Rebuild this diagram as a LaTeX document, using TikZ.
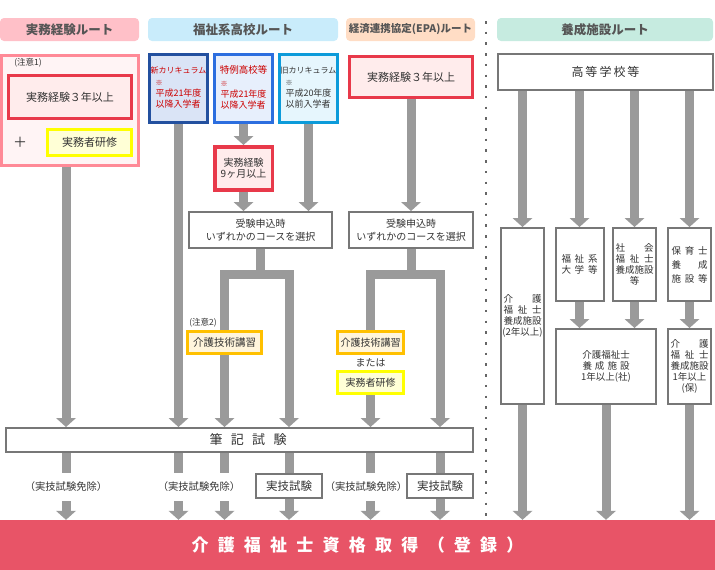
\documentclass[tikz,border=0pt]{standalone}
\usepackage{fontspec}
\setmainfont{Noto Sans CJK JP}
\usetikzlibrary{positioning, arrows.meta}

\definecolor{shaftgray}{HTML}{9A9A9A}
\definecolor{boxgray}{HTML}{777777}
\definecolor{txtdark}{HTML}{333333}
\definecolor{hdrtxt}{HTML}{555555}
\definecolor{hdrpink}{HTML}{FFC0C8}
\definecolor{hdrblue}{HTML}{C9ECFB}
\definecolor{hdrpeach}{HTML}{FFDDC5}
\definecolor{hdrmint}{HTML}{C6EBE0}
\definecolor{routepink}{HTML}{FF8A97}
\definecolor{routefill}{HTML}{FFF4F5}
\definecolor{redline}{HTML}{E8394A}
\definecolor{redfill}{HTML}{FFECEC}
\definecolor{ylwline}{HTML}{FFFF00}
\definecolor{ylwfill}{HTML}{FFFFD6}
\definecolor{orgline}{HTML}{FFC000}
\definecolor{orgfill}{HTML}{FFF5DC}
\definecolor{shinline}{HTML}{23509F}
\definecolor{shinfill}{HTML}{DAE4F6}
\definecolor{tokuline}{HTML}{2C6EDF}
\definecolor{tokufill}{HTML}{E7EFFC}
\definecolor{kyuline}{HTML}{0C9BDA}
\definecolor{kyufill}{HTML}{E6F6FD}
\definecolor{notered}{HTML}{CC0000}
\definecolor{goalred}{HTML}{E85467}
\definecolor{dotgray}{HTML}{666666}

\newcommand{\spreadto}[2]{\makebox[#1][s]{#2}}

\begin{document}
\begin{tikzpicture}[
    x=1pt, y=-1pt,
    hdr/.style={rounded corners=4pt, minimum height=23pt, inner sep=0pt, text=hdrtxt, font=\bfseries\fontsize{12.5}{13}\selectfont},
    box/.style={draw=boxgray, line width=2pt, fill=white, inner sep=0pt, align=center, text=txtdark, font=\fontsize{10}{12}\selectfont},
    redbox/.style={box, draw=redline, fill=redfill, line width=3.5pt},
    ylwbox/.style={box, draw=ylwline, fill=ylwfill, line width=3pt},
    orgbox/.style={box, draw=orgline, fill=orgfill, line width=3pt},
    curbox/.style={box, line width=3pt, minimum width=58pt, minimum height=68pt, font=\fontsize{9}{10.5}\selectfont},
    vbox/.style={box, font=\fontsize{9.5}{11}\selectfont},
    note/.style={inner sep=0pt, text=txtdark, font=\fontsize{8.5}{9}\selectfont},
    exempt/.style={inner sep=0pt, minimum height=28pt, text=txtdark, font=\fontsize{10.3}{11}\selectfont},
    shaft/.style={draw=shaftgray, line width=9pt, line join=miter},
    arrow/.style={shaft, -{Triangle[width=20pt, length=9pt, line width=0pt]}}
]
\useasboundingbox (0,0) rectangle (715,570);

% Route headers
\node[hdr, fill=hdrpink, minimum width=139pt] (hdrJitsumu) at (69.5,29.5) {実務経験ルート};
\node[hdr, fill=hdrblue, minimum width=190pt] (hdrKoukou) at (243,29.5) {福祉系高校ルート};
\node[hdr, fill=hdrpeach, minimum width=129pt, font=\bfseries\fontsize{10.5}{11}\selectfont] (hdrEpa) at (410.5,29.5) {経済連携協定(EPA)ルート};
\node[hdr, fill=hdrmint, minimum width=216pt] (hdrYousei) at (605,29.5) {養成施設ルート};

% Separator
\coordinate (sepTop) at (486,21);
\coordinate (sepBot) at (486,518);
\draw[dotgray, line width=2.5pt, dash pattern=on 2.5pt off 8.2pt] (sepTop) -- (sepBot);

% Jitsumu route
\node[box, draw=routepink, fill=routefill, line width=3pt, minimum width=137pt, minimum height=110pt] (jitsumu) at (70,110) {};
\node[note] (chui1) at (28,63) {(注意1)};
\node[redbox, minimum width=123pt, minimum height=43pt, font=\fontsize{11}{12}\selectfont] (keiken3) at (70,97) {実務経験３年以上};
\node[ylwbox, minimum width=84pt, minimum height=26pt, font=\fontsize{11}{12}\selectfont] (kenshu1) at (89.5,142.5) {実務者研修};
\node[inner sep=0pt, text=txtdark, font=\fontsize{14}{14}\selectfont] (plus) at (20,142) {＋};

% Koukou route
\node[curbox, draw=shinline, fill=shinfill, text=notered] (shin) at (178.5,88.5) {{\fontsize{8}{10}\selectfont 新カリキュラム}\\[3.5pt]\begin{tabular}{@{}l@{}}{\fontsize{7}{8}\selectfont ※}\\平成21年度\\以降入学者\end{tabular}};
\node[curbox, draw=tokuline, fill=tokufill, text=notered, right=4pt of shin] (tokurei) {{\fontsize{9.5}{10}\selectfont 特例高校等}\\[3.5pt]\begin{tabular}{@{}l@{}}{\fontsize{7}{8}\selectfont ※}\\平成21年度\\以降入学者\end{tabular}};
\node[curbox, draw=kyuline, fill=kyufill, right=4pt of tokurei] (kyu) {{\fontsize{8}{10}\selectfont 旧カリキュラム}\\[3.5pt]\begin{tabular}{@{}l@{}}{\fontsize{7}{8}\selectfont ※}\\平成20年度\\以前入学者\end{tabular}};
\node[redbox, minimum width=57.5pt, minimum height=43pt, font=\fontsize{10}{11}\selectfont, below=21pt of tokurei] (keiken9) {実務経験\\9ヶ月以上};
\node[box, minimum width=143pt, minimum height=36pt, font=\fontsize{10}{13}\selectfont] (sel1) at (260.5,230) {受験申込時\\いずれかのコースを選択};
\coordinate[below=25pt of sel1.south] (br1);
\node[note] (chui2) at (203,323) {(注意2)};
\node[orgbox, minimum width=74pt, minimum height=22pt, font=\fontsize{10.5}{11}\selectfont] (kaigo1) at (224.5,342.5) {介護技術講習};

% EPA route
\node[redbox, minimum width=123pt, minimum height=41pt, font=\fontsize{11}{12}\selectfont] (epa) at (411,77) {実務経験３年以上};
\node[box, minimum width=124pt, minimum height=36pt, font=\fontsize{10}{13}\selectfont] (sel2) at (411,230) {受験申込時\\いずれかのコースを選択};
\coordinate[below=25pt of sel2.south] (br2);
\node[orgbox, minimum width=66pt, minimum height=22pt, font=\fontsize{10}{11}\selectfont] (kaigo2) at (370.5,342.5) {介護技術講習};
\node[note, font=\fontsize{10}{11}\selectfont] (mataha) at (370.5,363) {または};
\node[ylwbox, minimum width=66pt, minimum height=22pt, font=\fontsize{10}{11}\selectfont] (kenshu2) at (370.5,382.5) {実務者研修};

% Yousei route
\node[box, minimum width=215pt, minimum height=36pt, font=\fontsize{12}{13}\selectfont] (koko) at (605.5,72) {\spreadto{68pt}{高 等 学 校 等}};
\node[vbox, minimum width=43pt, minimum height=176pt] (y2) at (522.5,316) {\spreadto{38pt}{介 護}\\\spreadto{38pt}{福 祉 士}\\養成施設\\(2年以上)};
\node[vbox, minimum width=48pt, minimum height=73pt] (fdai) at (579.5,264.5) {\spreadto{36pt}{福 祉 系}\\\spreadto{36pt}{大 学 等}};
\node[vbox, minimum width=43pt, minimum height=73pt] (shakai) at (634.5,264.5) {\spreadto{38pt}{社 会}\\\spreadto{38pt}{福 祉 士}\\養成施設\\等};
\node[vbox, minimum width=43pt, minimum height=73pt, font=\fontsize{9.5}{14}\selectfont] (hoiku) at (689.5,264.5) {\spreadto{36pt}{保 育 士}\\\spreadto{36pt}{養 成}\\\spreadto{36pt}{施 設 等}};
\node[vbox, minimum width=100pt, minimum height=75pt] (y1sha) at (606,366.5) {介護福祉士\\\spreadto{47pt}{養 成 施 設}\\1年以上(社)};
\node[vbox, minimum width=43pt, minimum height=75pt] (y1ho) at (689.5,366.5) {\spreadto{38pt}{介 護}\\\spreadto{38pt}{福 祉 士}\\養成施設\\1年以上\\(保)};

% Written exam and practical exam
\node[box, minimum width=467pt, minimum height=24pt, font=\fontsize{13}{14}\selectfont] (hikki) at (239.5,440) {\hspace*{17pt}\spreadto{77pt}{筆 記 試 験}};
\node[exempt] (men1) at (66,487) {（実技試験免除）};
\node[exempt] (men2) at (199,487) {（実技試験免除）};
\node[exempt] (men3) at (366,487) {（実技試験免除）};
\node[box, minimum width=66pt, minimum height=24pt, font=\fontsize{11.5}{12}\selectfont] (jitsugi1) at (289,486) {実技試験};
\node[box, minimum width=66pt, minimum height=24pt, font=\fontsize{11.5}{12}\selectfont] (jitsugi2) at (440,486) {実技試験};

% Goal
\node[fill=goalred, minimum width=715pt, minimum height=50pt, inner sep=0pt, text=white, font=\bfseries\fontsize{17}{17}\selectfont] (goal) at (357.5,545) {\spreadto{332pt}{介 護 福 祉 士 資 格 取 得 （ 登 録 ）}};

% Arrows: jitsumu route
\draw[arrow] (jitsumu.south -| men1) -- (hikki.north -| men1);

% Arrows: koukou route
\draw[arrow] (shin.south) -- (shin.south |- hikki.north);
\draw[arrow] (tokurei.south) -- (keiken9.north);
\draw[arrow] (keiken9.south) -- (keiken9.south |- sel1.north);
\draw[arrow] (kyu.south) -- (kyu.south |- sel1.north);
\draw[shaft] (sel1.south) -- (br1);
\draw[arrow] (kaigo1.north) |- (br1) -| (hikki.north -| jitsugi1);
\draw[arrow] (kaigo1.south) -- (kaigo1.south |- hikki.north);

% Arrows: EPA route
\draw[arrow] (epa.south) -- (sel2.north);
\draw[shaft] (sel2.south) -- (br2);
\draw[arrow] (kaigo2.north) |- (br2) -| (hikki.north -| jitsugi2);
\draw[arrow] (kenshu2.south) -- (kenshu2.south |- hikki.north);

% Arrows: yousei route
\draw[arrow] (koko.south -| y2) -- (y2.north);
\draw[arrow] (koko.south -| fdai) -- (fdai.north);
\draw[arrow] (koko.south -| shakai) -- (shakai.north);
\draw[arrow] (koko.south -| hoiku) -- (hoiku.north);
\draw[arrow] (fdai.south) -- (fdai.south |- y1sha.north);
\draw[arrow] (shakai.south) -- (shakai.south |- y1sha.north);
\draw[arrow] (hoiku.south) -- (y1ho.north);
\draw[arrow] (y2.south) -- (y2.south |- goal.north);
\draw[arrow] (y1sha.south) -- (y1sha.south |- goal.north);
\draw[arrow] (y1ho.south) -- (y1ho.south |- goal.north);

% Arrows: below written exam
\draw[shaft] (hikki.south -| men1) -- (men1.north);
\draw[arrow] (men1.south) -- (men1.south |- goal.north);
\draw[shaft] (hikki.south -| shin) -- (men2.north -| shin);
\draw[arrow] (men2.south -| shin) -- (goal.north -| shin);
\draw[shaft] (hikki.south -| kaigo1) -- (men2.north -| kaigo1);
\draw[arrow] (men2.south -| kaigo1) -- (goal.north -| kaigo1);
\draw[shaft] (hikki.south -| jitsugi1) -- (jitsugi1.north);
\draw[arrow] (jitsugi1.south) -- (jitsugi1.south |- goal.north);
\draw[shaft] (hikki.south -| kaigo2) -- (men3.north -| kaigo2);
\draw[arrow] (men3.south -| kaigo2) -- (goal.north -| kaigo2);
\draw[shaft] (hikki.south -| jitsugi2) -- (jitsugi2.north);
\draw[arrow] (jitsugi2.south) -- (jitsugi2.south |- goal.north);

\end{tikzpicture}
\end{document}
